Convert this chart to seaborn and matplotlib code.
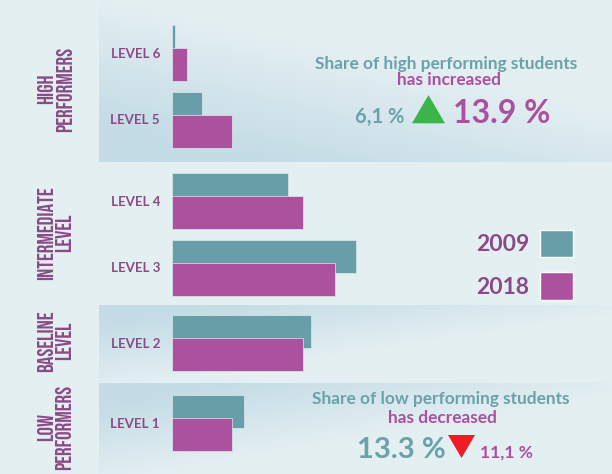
import numpy as np
import pandas as pd
import matplotlib
matplotlib.use("Agg")
import matplotlib.pyplot as plt
from matplotlib import font_manager
from matplotlib.font_manager import FontProperties
from matplotlib.transforms import Affine2D
from matplotlib.patches import Polygon, Patch
import seaborn as sns

# ---------------- data ----------------
levels = ["LEVEL 6", "LEVEL 5", "LEVEL 4", "LEVEL 3", "LEVEL 2", "LEVEL 1"]
share_2009 = [0.6, 5.5, 21.5, 34.2, 25.9, 13.3]
share_2018 = [2.7, 11.2, 24.3, 30.3, 24.3, 11.1]
years = ["2009", "2018"]
groups = ["HIGH\nPERFORMERS", "INTERMEDIATE\nLEVEL", "BASELINE\nLEVEL", "LOW\nPERFORMERS"]
group_levels = [["LEVEL 6", "LEVEL 5"], ["LEVEL 4", "LEVEL 3"], ["LEVEL 2"], ["LEVEL 1"]]
high_title = "Share of high performing students"
high_sub = "has increased"
high_2009, high_2018 = "6,1 %", "13.9 %"
low_title = "Share of low performing students"
low_sub = "has decreased"
low_2009, low_2018 = "13.3 %", "11,1 %"

df = pd.DataFrame({
    "level": levels * 2,
    "year": [years[0]] * len(levels) + [years[1]] * len(levels),
    "share": share_2009 + share_2018,
})

# ---------------- style ----------------
BG = "#e4eff2"
DARK = np.array([0xc4, 0xdc, 0xe6]) / 255
BGA = np.array([0xe4, 0xef, 0xf2]) / 255
TEAL = "#689ea7"
MAG = "#ab519e"
TEAL_T = "#6aa2aa"
MAG_T = "#a9509f"
PURPLE = "#8a4a87"
GREEN = "#3bb54a"
RED = "#ee1c25"


def font_file(name, weight=None):
    cands = [f for f in font_manager.fontManager.ttflist
             if f.name == name and f.style == "normal"]
    if not cands:
        return None
    if weight is not None:
        cands.sort(key=lambda f: abs(int(f.weight) - weight) if str(f.weight).isdigit() else 999)
    return cands[0].fname


sns.set_theme(style="white")
plt.rcParams["font.family"] = ["Lato", "DejaVu Sans"]

lato_b = font_file("Lato", 700)
bebas = font_file("Bebas Neue") or font_file("Oswald", 500)


def fp(size, f=lato_b):
    if f is None:
        return FontProperties(family="DejaVu Sans", weight="bold", size=size)
    return FontProperties(fname=f, size=size)


W, H = 612, 474
fig = plt.figure(figsize=(W / 100, H / 100), dpi=100)
fig.patch.set_facecolor(BG)
px = Affine2D().scale(1 / W, -1 / H).translate(0, 1) + fig.transFigure

# bands: top, bottom, centre of first category (px), gradient kind
bands = [(0, 162, 53, "up"), (165, 305, 201, None), (305, 382, 342.5, "down"), (383, 474, 423, "down")]

ax_bg = fig.add_axes([0, 0, 1, 1])
BAND_X0 = 99
for top, bottom, c0, kind in bands:
    if kind is None:
        continue
    u = np.linspace(0, 1, 200)[None, :]
    v = np.linspace(0, 1, 60)[:, None]
    if kind == "up":
        d = np.clip(1.25 * v - 0.9 * u + 0.05, 0, 1)
    else:
        d = np.clip(1.1 * (1 - v) - 1.1 * u + 0.15, 0, 1)
    img = BGA[None, None, :] * (1 - d[..., None]) + DARK[None, None, :] * d[..., None]
    ax_bg.imshow(img, extent=(BAND_X0, W, bottom, top), aspect="auto",
                 interpolation="bilinear", zorder=0)
ax_bg.set_xlim(0, W)
ax_bg.set_ylim(H, 0)
ax_bg.axis("off")

# bar axes
UNIT = 66.5     # px per category
X0 = 172        # px of zero
SCALE = 5.38    # px per percent
for (top, bottom, c0, kind), lv in zip(bands, group_levels):
    ax = fig.add_axes([X0 / W, 1 - bottom / H, (W - X0) / W, (bottom - top) / H])
    ax.patch.set_visible(False)
    sub = df[df["level"].isin(lv)]
    sns.barplot(data=sub, x="share", y="level", hue="year", order=lv, hue_order=years,
                palette=[TEAL, MAG], orient="h", width=46 / UNIT, gap=1 - 33 / 23,
                dodge=True, errorbar=None, saturation=1, legend=False,
                edgecolor="#dfe9ee", linewidth=0.5, ax=ax)
    ax.set_ylim((bottom - c0) / UNIT, (top - c0) / UNIT)
    ax.set_xlim(0, (W - X0) / SCALE)
    ax.set_xticks([])
    ax.set_xlabel("")
    ax.set_ylabel("")
    for s in ax.spines.values():
        s.set_visible(False)
    ax.tick_params(axis="y", length=0, pad=8.6)
    for lab in ax.get_yticklabels():
        lab.set_fontproperties(fp(9.6))
        lab.set_color(PURPLE)

# group labels
group_pos = [(54.5, 89), (54, 233), (54, 341), (54, 427)]
for g, (x, y) in zip(groups, group_pos):
    fig.text(x, y, g, transform=px, rotation=90, ha="center", va="center",
             multialignment="center", linespacing=1.15, fontproperties=fp(15.5, bebas),
             color=PURPLE)

# legend
fig.legend(handles=[Patch(facecolor=TEAL), Patch(facecolor=MAG)], labels=years,
           loc="center left", bbox_to_anchor=(476 / W, 1 - 264.7 / H), frameon=False,
           markerfirst=False, prop=fp(16.5), labelcolor=PURPLE,
           handlelength=1.46, handleheight=1.46, handletextpad=0.45,
           labelspacing=0.67, borderpad=0, borderaxespad=0)

# annotations
fig.text(446, 69.5, high_title, ha="center", va="baseline", transform=px,
         fontproperties=fp(12.4), color=TEAL_T)
fig.text(449, 85, high_sub, ha="center", va="baseline", transform=px,
         fontproperties=fp(12.4), color=MAG_T)
fig.text(355, 123.3, high_2009, ha="left", va="baseline", transform=px,
         fontproperties=fp(14.5), color=TEAL_T)
fig.add_artist(Polygon([(412, 123.3), (445, 123.3), (428.5, 95)], closed=True,
                       transform=px, facecolor=GREEN, edgecolor="none"))
fig.text(453, 122.7, high_2018, ha="left", va="baseline", transform=px,
         fontproperties=fp(23), color=MAG_T)

fig.text(441, 404.3, low_title, ha="center", va="baseline", transform=px,
         fontproperties=fp(12.4), color=TEAL_T)
fig.text(442.3, 422.7, low_sub, ha="center", va="baseline", transform=px,
         fontproperties=fp(12.4), color=MAG_T)
fig.text(356.7, 458.3, low_2009, ha="left", va="baseline", transform=px,
         fontproperties=fp(21), color=TEAL_T)
fig.add_artist(Polygon([(448, 435), (475, 435), (461.5, 458)], closed=True,
                       transform=px, facecolor=RED, edgecolor="none"))
fig.text(480, 458, low_2018, ha="left", va="baseline", transform=px,
         fontproperties=fp(12.5), color=MAG_T)

fig.savefig("out.png", dpi=100, facecolor=BG)
